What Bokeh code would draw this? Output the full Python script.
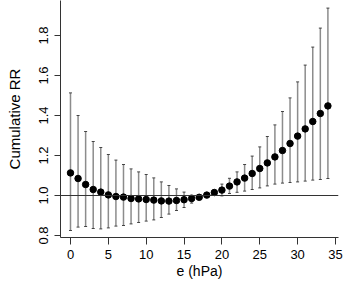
from bokeh.plotting import figure
from bokeh.models import Range1d, FixedTicker, PrintfTickFormatter, Span
from bokeh.embed import file_html
from bokeh.resources import INLINE

e_hpa = [0, 1, 2, 3, 4, 5, 6, 7, 8, 9, 10, 11, 12, 13, 14, 15, 16, 17,
         18, 19, 20, 21, 22, 23, 24, 25, 26, 27, 28, 29, 30, 31, 32, 33, 34]
rr = [1.113, 1.085, 1.055, 1.030, 1.017, 1.003, 0.995, 0.992, 0.985, 0.983,
      0.980, 0.977, 0.973, 0.972, 0.975, 0.979, 0.985, 0.991, 1.002, 1.015,
      1.027, 1.047, 1.068, 1.087, 1.110, 1.135, 1.163, 1.193, 1.225, 1.260,
      1.297, 1.333, 1.370, 1.410, 1.448]
rr_low = [0.825, 0.842, 0.845, 0.835, 0.833, 0.838, 0.847, 0.850, 0.858, 0.865,
          0.872, 0.878, 0.890, 0.907, 0.925, 0.940, 0.962, 0.980, 0.993, 1.003,
          0.998, 1.010, 1.016, 1.022, 1.030, 1.038, 1.048, 1.057, 1.062, 1.065,
          1.068, 1.072, 1.077, 1.080, 1.085]
rr_high = [1.513, 1.400, 1.320, 1.270, 1.240, 1.205, 1.177, 1.155, 1.133, 1.118,
           1.105, 1.088, 1.068, 1.050, 1.033, 1.017, 1.002, 1.000, 1.010, 1.027,
           1.057, 1.086, 1.118, 1.155, 1.197, 1.243, 1.295, 1.353, 1.420, 1.488,
           1.568, 1.652, 1.742, 1.837, 1.937]
x_ticks = [0, 5, 10, 15, 20, 25, 30, 35]
y_ticks = [0.8, 1.0, 1.2, 1.4, 1.6, 1.8]

FONT = "Liberation Sans"

p = figure(frame_width=278, frame_height=237, output_backend="svg",
           toolbar_location=None, min_border_left=60, min_border_right=5,
           min_border_top=0, min_border_bottom=44,
           x_range=Range1d(-1.32, 35.4), y_range=Range1d(0.79, 1.975))
p.outline_line_color = None
p.grid.visible = False
p.background_fill_color = "white"
p.border_fill_color = "white"

# reference line at RR = 1
p.add_layout(Span(location=1.0, dimension="width", line_color="#333333",
                  line_width=1))

# confidence intervals
p.segment(x0=e_hpa, y0=rr_low, x1=e_hpa, y1=rr_high, line_color="#8c8c8c",
          line_width=1.5)
p.scatter(x=e_hpa, y=rr_high, marker="dash", size=3, line_color="#444444",
          line_width=1)
p.scatter(x=e_hpa, y=rr_low, marker="dash", size=3, line_color="#444444",
          line_width=1)

# point estimates
p.scatter(x=e_hpa, y=rr, size=6.5, fill_color="black", line_color="black")

for ax in (p.xaxis[0], p.yaxis[0]):
    ax.axis_line_color = "#333333"
    ax.major_tick_line_color = "#333333"
    ax.minor_tick_line_color = None
    ax.major_tick_in = 0
    ax.major_label_text_font = FONT
    ax.major_label_text_font_size = "13px"
    ax.major_label_text_color = "black"
    ax.axis_label_text_font = FONT
    ax.axis_label_text_font_style = "normal"
    ax.axis_label_text_color = "black"

p.xaxis.ticker = FixedTicker(ticks=x_ticks)
p.xaxis.major_tick_out = 7
p.xaxis.major_label_standoff = 5
p.xaxis.axis_label = "e (hPa)"
p.xaxis.axis_label_text_font_size = "14px"
p.xaxis.axis_label_standoff = 1

p.yaxis.ticker = FixedTicker(ticks=y_ticks)
p.yaxis.formatter = PrintfTickFormatter(format="%.1f")
p.yaxis.major_tick_out = 6
p.yaxis.major_label_orientation = "vertical"
p.yaxis.major_label_standoff = 7
p.yaxis.axis_label = "Cumulative RR"
p.yaxis.axis_label_text_font_size = "15px"
p.yaxis.axis_label_standoff = 13

open("out.html", "w").write(file_html(p, INLINE))
